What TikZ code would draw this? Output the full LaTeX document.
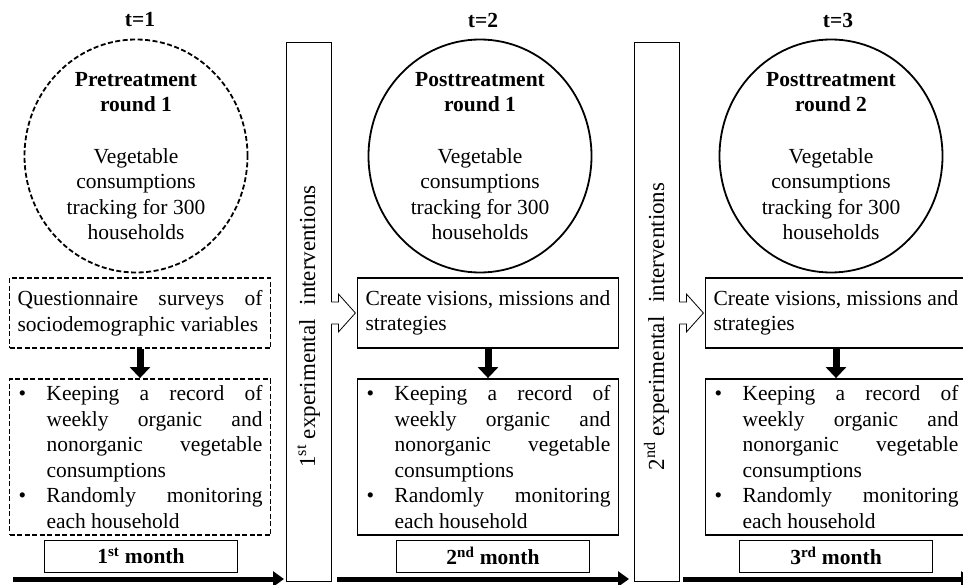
\documentclass[tikz,border=0pt]{standalone}
\usepackage{fontspec}
\setmainfont{Liberation Serif}
\usetikzlibrary{shapes.geometric,arrows.meta,calc}

\tolerance=10000
\hbadness=10000
\newcommand{\recitem}{\noindent\hangindent=29pt\hangafter=1\makebox[29pt][l]{\hspace{1pt}\textbullet}}

\begin{document}
\begin{tikzpicture}[x=1pt, y=-1pt, line join=miter,
    txt/.style={font=\fontsize{21.5}{25.5}\selectfont},
    tlabel/.style={font=\fontsize{21.5}{25.5}\selectfont\bfseries},
    track/.style={draw, ellipse, line width=1.8pt, minimum width=223pt, minimum height=233pt, inner sep=0pt},
    task/.style={txt, draw, line width=1.8pt, text width=245pt, inner xsep=8pt, inner ysep=0pt, minimum height=70pt, align=justify},
    rec/.style={task, minimum height=156pt},
    pre/.style={dash pattern=on 5pt off 2.5pt},
    month/.style={tlabel, draw, line width=0.8pt, minimum width=193pt, minimum height=32pt, inner sep=0pt},
    ibar/.style={font=\fontsize{23}{27}\selectfont, draw, line width=0.8pt, rotate=90, minimum width=539pt, minimum height=45pt, inner sep=0pt},
    down/.style={line width=7pt, -{Triangle[width=20pt,length=11pt]}},
    timeline/.style={line width=5pt, -{Triangle[width=15pt,length=11pt]}},
    gate/.style={line width=0.8pt, fill=white}]

  \useasboundingbox (0,0) rectangle (963,585);
  \clip (0,0) rectangle (963,585);

  % 时间点
  \node[tlabel] (t1) at (140,20) {t=1};
  \node[tlabel] (t2) at (483,20) {t=2};
  \node[tlabel] (t3) at (838,20) {t=3};

  % 三轮追踪
  \node[track, pre] (c1) at (136,156) {};
  \node[track] (c2) at (480,156) {};
  \node[track] (c3) at (831,156) {};
  \node[txt, align=center] (c1t) at (c1) {\textbf{Pretreatment}\\\textbf{round 1}\\[26pt]Vegetable\\consumptions\\tracking for 300\\households};
  \node[txt, align=center] (c2t) at (c2) {\textbf{Posttreatment}\\\textbf{round 1}\\[26pt]Vegetable\\consumptions\\tracking for 300\\households};
  \node[txt, align=center] (c3t) at (c3) {\textbf{Posttreatment}\\\textbf{round 2}\\[26pt]Vegetable\\consumptions\\tracking for 300\\households};

  % 上方方框
  \node[task, pre] (q1) at (140,313) {Questionnaire surveys of\linebreak sociodemographic variables};
  \node[task] (cr2) at (488,313) {Create visions, missions and\\strategies};
  \node[task] (cr3) at (836,313) {Create visions, missions and\\strategies};

  % 记录方框
  \node[rec, pre] (k1) at (140,457) {\recitem Keeping a record of\linebreak weekly organic and\linebreak nonorganic vegetable\linebreak consumptions\par\recitem Randomly monitoring\linebreak each household\par};
  \node[rec] (k2) at (488,457) {\recitem Keeping a record of\linebreak weekly organic and\linebreak nonorganic vegetable\linebreak consumptions\par\recitem Randomly monitoring\linebreak each household\par};
  \node[rec] (k3) at (836,457) {\recitem Keeping a record of\linebreak weekly organic and\linebreak nonorganic vegetable\linebreak consumptions\par\recitem Randomly monitoring\linebreak each household\par};

  \draw[down] (q1.south) -- (k1.north);
  \draw[down] (cr2.south) -- (k2.north);
  \draw[down] (cr3.south) -- (k3.north);

  % 月份
  \node[month] (m1) at (141,556) {1\textsuperscript{st} month};
  \node[month] (m2) at (493,556) {2\textsuperscript{nd} month};
  \node[month] (m3) at (836,556) {3\textsuperscript{rd} month};

  % 干预
  \node[ibar] (int1) at (308.5,311.5) {1\textsuperscript{st} experimental\hspace{8pt} interventions\kern30pt};
  \node[ibar] (int2) at (656.5,311.5) {2\textsuperscript{nd} experimental\hspace{8pt} interventions\kern30pt};

  \coordinate (g1) at (int1.south |- cr2.west);
  \coordinate (g2) at (int2.south |- cr3.west);
  \fill[white] ($(g1)+(-1,-10.6)$) rectangle ($(g1)+(1,10.6)$);
  \fill[white] ($(g2)+(-1,-10.6)$) rectangle ($(g2)+(1,10.6)$);
  \draw[gate] ($(g1)+(0,-11)$) -- ++(7,0) -- ++(0,-8) -- ++(17,19) -- ++(-17,19) -- ++(0,-8) -- ++(-7,0);
  \draw[gate] ($(g2)+(0,-11)$) -- ++(7,0) -- ++(0,-8) -- ++(17,19) -- ++(-17,19) -- ++(0,-8) -- ++(-7,0);

  % 时间轴
  \coordinate (s1) at (13,579);
  \coordinate (e1) at (284,579);
  \coordinate (s2) at (337,579);
  \coordinate (e2) at (629,579);
  \coordinate (s3) at (683,579);
  \coordinate (e3) at (972,579);
  \draw[timeline] (s1) -- (e1);
  \draw[timeline] (s2) -- (e2);
  \draw[timeline] (s3) -- (e3);
\end{tikzpicture}
\end{document}
